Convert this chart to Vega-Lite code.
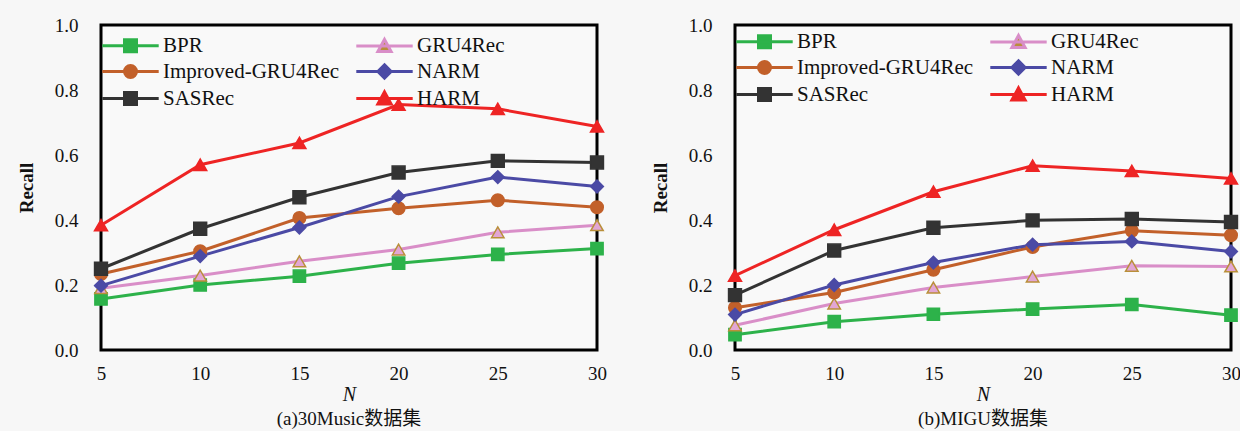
{
  "$schema": "https://vega.github.io/schema/vega-lite/v6.json",
  "background": "#f7f7f7",
  "padding": {"left": 15, "top": 14, "right": 0, "bottom": 2},
  "spacing": 40,
  "datasets": {
    "music": [
      {"model": "BPR", "N": 5, "recall": 0.157}, {"model": "BPR", "N": 10, "recall": 0.200}, {"model": "BPR", "N": 15, "recall": 0.227}, {"model": "BPR", "N": 20, "recall": 0.267}, {"model": "BPR", "N": 25, "recall": 0.294}, {"model": "BPR", "N": 30, "recall": 0.312},
      {"model": "GRU4Rec", "N": 5, "recall": 0.190}, {"model": "GRU4Rec", "N": 10, "recall": 0.229}, {"model": "GRU4Rec", "N": 15, "recall": 0.273}, {"model": "GRU4Rec", "N": 20, "recall": 0.309}, {"model": "GRU4Rec", "N": 25, "recall": 0.362}, {"model": "GRU4Rec", "N": 30, "recall": 0.384},
      {"model": "Improved-GRU4Rec", "N": 5, "recall": 0.234}, {"model": "Improved-GRU4Rec", "N": 10, "recall": 0.304}, {"model": "Improved-GRU4Rec", "N": 15, "recall": 0.406}, {"model": "Improved-GRU4Rec", "N": 20, "recall": 0.436}, {"model": "Improved-GRU4Rec", "N": 25, "recall": 0.461}, {"model": "Improved-GRU4Rec", "N": 30, "recall": 0.439},
      {"model": "NARM", "N": 5, "recall": 0.198}, {"model": "NARM", "N": 10, "recall": 0.289}, {"model": "NARM", "N": 15, "recall": 0.377}, {"model": "NARM", "N": 20, "recall": 0.472}, {"model": "NARM", "N": 25, "recall": 0.532}, {"model": "NARM", "N": 30, "recall": 0.503},
      {"model": "SASRec", "N": 5, "recall": 0.250}, {"model": "SASRec", "N": 10, "recall": 0.373}, {"model": "SASRec", "N": 15, "recall": 0.470}, {"model": "SASRec", "N": 20, "recall": 0.546}, {"model": "SASRec", "N": 25, "recall": 0.582}, {"model": "SASRec", "N": 30, "recall": 0.577},
      {"model": "HARM", "N": 5, "recall": 0.384}, {"model": "HARM", "N": 10, "recall": 0.570}, {"model": "HARM", "N": 15, "recall": 0.637}, {"model": "HARM", "N": 20, "recall": 0.755}, {"model": "HARM", "N": 25, "recall": 0.742}, {"model": "HARM", "N": 30, "recall": 0.688}
    ],
    "migu": [
      {"model": "BPR", "N": 5, "recall": 0.047}, {"model": "BPR", "N": 10, "recall": 0.087}, {"model": "BPR", "N": 15, "recall": 0.110}, {"model": "BPR", "N": 20, "recall": 0.126}, {"model": "BPR", "N": 25, "recall": 0.140}, {"model": "BPR", "N": 30, "recall": 0.107},
      {"model": "GRU4Rec", "N": 5, "recall": 0.076}, {"model": "GRU4Rec", "N": 10, "recall": 0.143}, {"model": "GRU4Rec", "N": 15, "recall": 0.192}, {"model": "GRU4Rec", "N": 20, "recall": 0.226}, {"model": "GRU4Rec", "N": 25, "recall": 0.259}, {"model": "GRU4Rec", "N": 30, "recall": 0.257},
      {"model": "Improved-GRU4Rec", "N": 5, "recall": 0.130}, {"model": "Improved-GRU4Rec", "N": 10, "recall": 0.177}, {"model": "Improved-GRU4Rec", "N": 15, "recall": 0.247}, {"model": "Improved-GRU4Rec", "N": 20, "recall": 0.317}, {"model": "Improved-GRU4Rec", "N": 25, "recall": 0.367}, {"model": "Improved-GRU4Rec", "N": 30, "recall": 0.353},
      {"model": "NARM", "N": 5, "recall": 0.109}, {"model": "NARM", "N": 10, "recall": 0.200}, {"model": "NARM", "N": 15, "recall": 0.269}, {"model": "NARM", "N": 20, "recall": 0.324}, {"model": "NARM", "N": 25, "recall": 0.334}, {"model": "NARM", "N": 30, "recall": 0.303},
      {"model": "SASRec", "N": 5, "recall": 0.169}, {"model": "SASRec", "N": 10, "recall": 0.306}, {"model": "SASRec", "N": 15, "recall": 0.376}, {"model": "SASRec", "N": 20, "recall": 0.399}, {"model": "SASRec", "N": 25, "recall": 0.403}, {"model": "SASRec", "N": 30, "recall": 0.394},
      {"model": "HARM", "N": 5, "recall": 0.229}, {"model": "HARM", "N": 10, "recall": 0.370}, {"model": "HARM", "N": 15, "recall": 0.487}, {"model": "HARM", "N": 20, "recall": 0.567}, {"model": "HARM", "N": 25, "recall": 0.551}, {"model": "HARM", "N": 30, "recall": 0.528}
    ]
  },
  "resolve": {"scale": {"color": "independent"}, "legend": {"color": "independent"}},
  "hconcat": [
    {
      "width": 496, "height": 325,
      "data": {"name": "music"},
      "title": {"text": "(a)30Music数据集", "orient": "bottom", "fontSize": 19, "fontWeight": "normal", "font": "Liberation Serif, Noto Sans CJK SC", "offset": 6, "color": "#111"},
      "encoding": {
        "x": {"field": "N", "type": "quantitative", "scale": {"domain": [5, 30], "nice": false, "zero": false}, "axis": {"title": "N", "values": [5, 10, 15, 20, 25, 30]}},
        "y": {"field": "recall", "type": "quantitative", "scale": {"domain": [0, 1], "nice": false}, "axis": {"title": "Recall", "values": [0, 0.2, 0.4, 0.6, 0.8, 1.0], "format": ".1f"}}
      },
      "layer": [
        {
          "mark": {"type": "line", "strokeWidth": 3},
          "encoding": {
            "color": {"field": "model", "type": "nominal",
              "scale": {"domain": ["BPR", "Improved-GRU4Rec", "SASRec", "GRU4Rec", "NARM", "HARM"], "range": ["#2db24a", "#c2602a", "#333333", "#d98ec8", "#4b4aa5", "#ee2424"]},
              "legend": {"orient": "none", "legendX": 19, "legendY": 10, "columns": 2, "columnPadding": 10, "rowPadding": 0, "title": null, "padding": 0, "labelLimit": 0,
                "symbolSize": 144, "symbolStrokeWidth": 3, "labelOffset": 22, "labelFontSize": 21, "labelFont": "Liberation Serif", "labelColor": "#111",
                "encode": {"symbols": {"update": {
                  "shape": {"signal": "datum.value === 'BPR' || datum.value === 'SASRec' ? 'M-4.7,0H4.7M-1,-1H1V1H-1Z' : (datum.value === 'GRU4Rec' || datum.value === 'HARM') ? 'M-4.7,0H4.7M0,-1.1L1.1,0.9H-1.1Z' : datum.value === 'NARM' ? 'M-4.7,0H4.7M0,-1.1L1.1,0L0,1.1L-1.1,0Z' : 'M-4.7,0H4.7M-1,0A1,1 0 1,0 1,0A1,1 0 1,0 -1,0Z'"},
                  "fill": {"signal": "datum.value === 'BPR' ? '#2db24a' : datum.value === 'GRU4Rec' ? '#b98f3a' : datum.value === 'Improved-GRU4Rec' ? '#c2602a' : datum.value === 'NARM' ? '#4b4aa5' : datum.value === 'SASRec' ? '#333333' : '#ee2424'"},
                  "stroke": {"signal": "datum.value === 'BPR' ? '#2db24a' : datum.value === 'GRU4Rec' ? '#d98ec8' : datum.value === 'Improved-GRU4Rec' ? '#c2602a' : datum.value === 'NARM' ? '#4b4aa5' : datum.value === 'SASRec' ? '#333333' : '#ee2424'"},
                  "opacity": {"value": 1},
                  "fillOpacity": {"value": 1}
                }}}
              }
            }
          }
        },
        {
          "mark": {"type": "point", "filled": true, "strokeWidth": 1.5, "opacity": 1},
          "encoding": {
            "shape": {"field": "model", "type": "nominal", "legend": null, "scale": {"domain": ["BPR", "GRU4Rec", "Improved-GRU4Rec", "NARM", "SASRec", "HARM"], "range": ["square", "triangle-up", "circle", "diamond", "square", "triangle-up"]}},
            "fill": {"field": "model", "type": "nominal", "legend": null, "scale": {"domain": ["BPR", "GRU4Rec", "Improved-GRU4Rec", "NARM", "SASRec", "HARM"], "range": ["#2db24a", "#e2a6d4", "#c2602a", "#4b4aa5", "#333333", "#ee2424"]}},
            "stroke": {"field": "model", "type": "nominal", "legend": null, "scale": {"domain": ["BPR", "GRU4Rec", "Improved-GRU4Rec", "NARM", "SASRec", "HARM"], "range": ["#2db24a", "#b98f3a", "#c2602a", "#4b4aa5", "#333333", "#ee2424"]}},
            "size": {"field": "model", "type": "nominal", "legend": null, "scale": {"domain": ["BPR", "GRU4Rec", "Improved-GRU4Rec", "NARM", "SASRec", "HARM"], "range": [150, 170, 130, 150, 190, 200]}}
          }
        }
      ]
    },
    {
      "width": 496, "height": 325,
      "data": {"name": "migu"},
      "title": {"text": "(b)MIGU数据集", "orient": "bottom", "fontSize": 19, "fontWeight": "normal", "font": "Liberation Serif, Noto Sans CJK SC", "offset": 6, "color": "#111"},
      "encoding": {
        "x": {"field": "N", "type": "quantitative", "scale": {"domain": [5, 30], "nice": false, "zero": false}, "axis": {"title": "N", "values": [5, 10, 15, 20, 25, 30]}},
        "y": {"field": "recall", "type": "quantitative", "scale": {"domain": [0, 1], "nice": false}, "axis": {"title": "Recall", "values": [0, 0.2, 0.4, 0.6, 0.8, 1.0], "format": ".1f"}}
      },
      "layer": [
        {
          "mark": {"type": "line", "strokeWidth": 3},
          "encoding": {
            "color": {"field": "model", "type": "nominal",
              "scale": {"domain": ["BPR", "Improved-GRU4Rec", "SASRec", "GRU4Rec", "NARM", "HARM"], "range": ["#2db24a", "#c2602a", "#333333", "#d98ec8", "#4b4aa5", "#ee2424"]},
              "legend": {"orient": "none", "legendX": 19, "legendY": 6, "columns": 2, "columnPadding": 10, "rowPadding": 0, "title": null, "padding": 0, "labelLimit": 0,
                "symbolSize": 144, "symbolStrokeWidth": 3, "labelOffset": 22, "labelFontSize": 21, "labelFont": "Liberation Serif", "labelColor": "#111",
                "encode": {"symbols": {"update": {
                  "shape": {"signal": "datum.value === 'BPR' || datum.value === 'SASRec' ? 'M-4.7,0H4.7M-1,-1H1V1H-1Z' : (datum.value === 'GRU4Rec' || datum.value === 'HARM') ? 'M-4.7,0H4.7M0,-1.1L1.1,0.9H-1.1Z' : datum.value === 'NARM' ? 'M-4.7,0H4.7M0,-1.1L1.1,0L0,1.1L-1.1,0Z' : 'M-4.7,0H4.7M-1,0A1,1 0 1,0 1,0A1,1 0 1,0 -1,0Z'"},
                  "fill": {"signal": "datum.value === 'BPR' ? '#2db24a' : datum.value === 'GRU4Rec' ? '#b98f3a' : datum.value === 'Improved-GRU4Rec' ? '#c2602a' : datum.value === 'NARM' ? '#4b4aa5' : datum.value === 'SASRec' ? '#333333' : '#ee2424'"},
                  "stroke": {"signal": "datum.value === 'BPR' ? '#2db24a' : datum.value === 'GRU4Rec' ? '#d98ec8' : datum.value === 'Improved-GRU4Rec' ? '#c2602a' : datum.value === 'NARM' ? '#4b4aa5' : datum.value === 'SASRec' ? '#333333' : '#ee2424'"},
                  "opacity": {"value": 1},
                  "fillOpacity": {"value": 1}
                }}}
              }
            }
          }
        },
        {
          "mark": {"type": "point", "filled": true, "strokeWidth": 1.5, "opacity": 1},
          "encoding": {
            "shape": {"field": "model", "type": "nominal", "legend": null, "scale": {"domain": ["BPR", "GRU4Rec", "Improved-GRU4Rec", "NARM", "SASRec", "HARM"], "range": ["square", "triangle-up", "circle", "diamond", "square", "triangle-up"]}},
            "fill": {"field": "model", "type": "nominal", "legend": null, "scale": {"domain": ["BPR", "GRU4Rec", "Improved-GRU4Rec", "NARM", "SASRec", "HARM"], "range": ["#2db24a", "#e2a6d4", "#c2602a", "#4b4aa5", "#333333", "#ee2424"]}},
            "stroke": {"field": "model", "type": "nominal", "legend": null, "scale": {"domain": ["BPR", "GRU4Rec", "Improved-GRU4Rec", "NARM", "SASRec", "HARM"], "range": ["#2db24a", "#b98f3a", "#c2602a", "#4b4aa5", "#333333", "#ee2424"]}},
            "size": {"field": "model", "type": "nominal", "legend": null, "scale": {"domain": ["BPR", "GRU4Rec", "Improved-GRU4Rec", "NARM", "SASRec", "HARM"], "range": [150, 170, 130, 150, 190, 200]}}
          }
        }
      ]
    }
  ],
  "config": {
    "font": "Liberation Serif",
    "view": {"stroke": "black", "strokeWidth": 3, "fill": "#f9f9f9"},
    "axisX": {"titleFontStyle": "italic", "titleFontWeight": "normal", "titleFontSize": 20, "titlePadding": 1, "labelPadding": 14},
    "axisY": {"titleFontWeight": "bold", "titleFontSize": 19, "titlePadding": 18, "labelPadding": 23},
    "axis": {"grid": false, "ticks": false, "tickSize": 0, "domain": false, "labelFontSize": 19, "labelColor": "#111", "titleColor": "#111", "labelFlush": false, "labelFont": "Liberation Serif", "titleFont": "Liberation Serif"}
  }
}
